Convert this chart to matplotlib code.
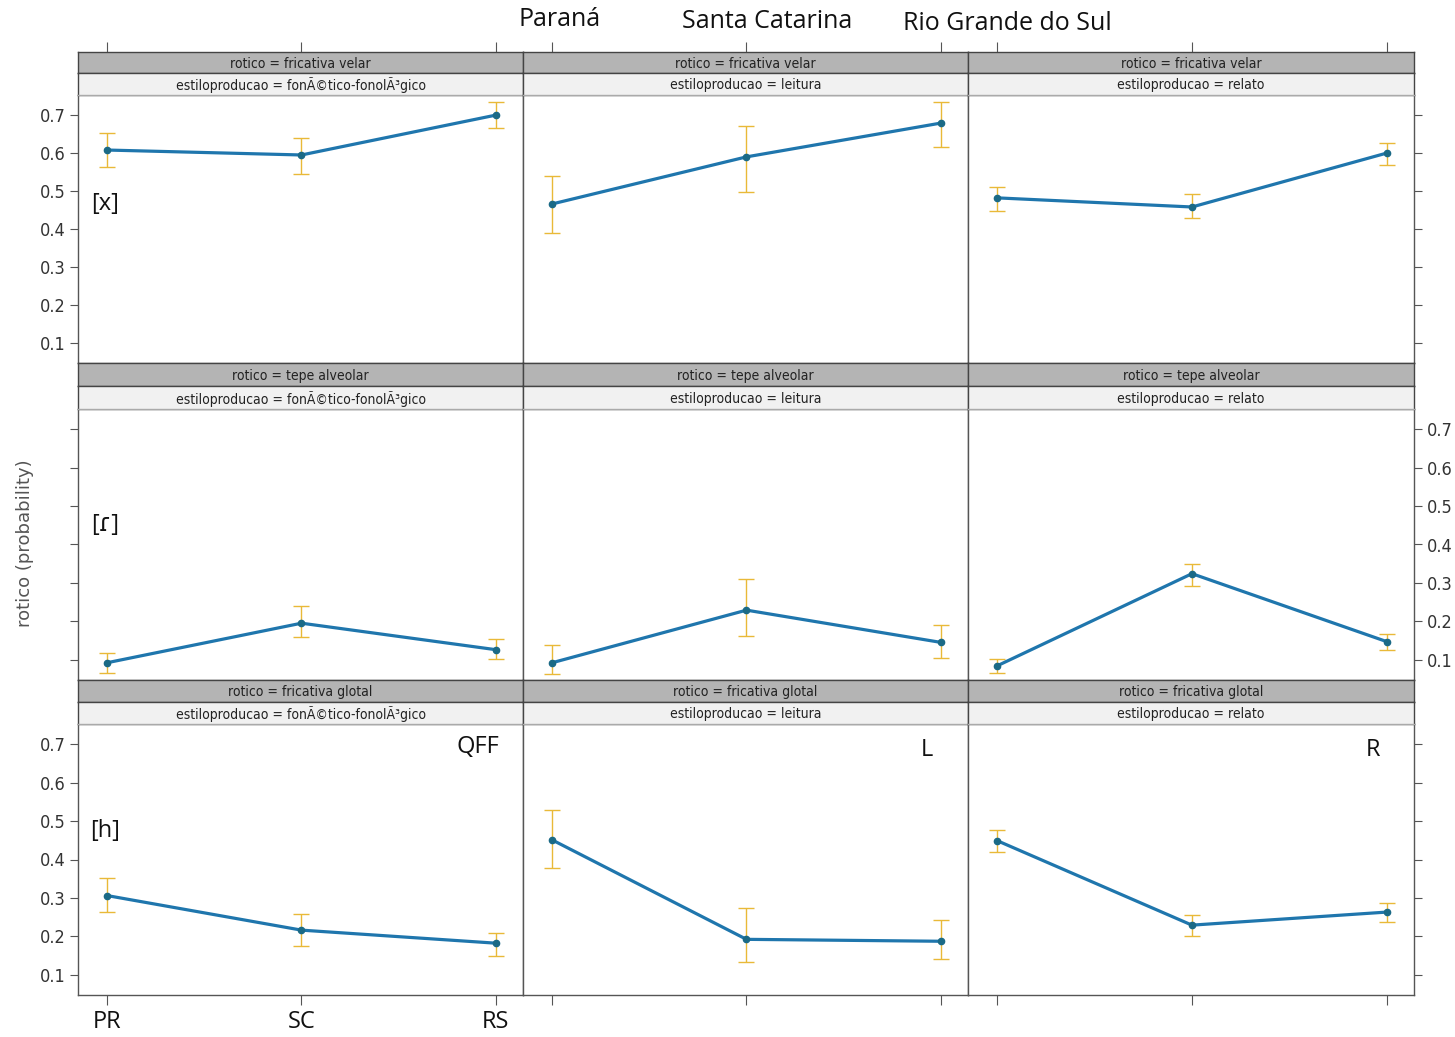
import matplotlib
matplotlib.use('Agg')
import matplotlib.pyplot as plt
from matplotlib import font_manager

W, H = 1455, 1037

# ---------------- data ----------------
states = ['PR', 'SC', 'RS']
state_names = ['Paraná', 'Santa Catarina', 'Rio Grande do Sul']
styles = ['fonÃ©tico-fonolÃ³gico', 'leitura', 'relato']
roticos = ['fricativa velar', 'tepe alveolar', 'fricativa glotal']
row_labels = ['[x]', '[ɾ]', '[h]']
col_labels = ['QFF', 'L', 'R']
yticks = [0.1, 0.2, 0.3, 0.4, 0.5, 0.6, 0.7]

# fricativa velar  (columns: fonetico-fonologico, leitura, relato; values PR, SC, RS)
velar_fit = [[0.608, 0.595, 0.700], [0.466, 0.590, 0.679], [0.482, 0.458, 0.600]]
velar_lo = [[0.563, 0.545, 0.665], [0.390, 0.497, 0.616], [0.447, 0.429, 0.568]]
velar_hi = [[0.652, 0.640, 0.735], [0.540, 0.671, 0.734], [0.510, 0.492, 0.626]]
# tepe alveolar
tepe_fit = [[0.092, 0.195, 0.126], [0.092, 0.229, 0.145], [0.084, 0.324, 0.147]]
tepe_lo = [[0.066, 0.158, 0.103], [0.063, 0.161, 0.105], [0.066, 0.292, 0.126]]
tepe_hi = [[0.118, 0.240, 0.155], [0.137, 0.311, 0.189], [0.103, 0.350, 0.168]]
# fricativa glotal
glotal_fit = [[0.306, 0.216, 0.182], [0.451, 0.192, 0.187], [0.449, 0.229, 0.263]]
glotal_lo = [[0.264, 0.174, 0.148], [0.377, 0.132, 0.142], [0.420, 0.200, 0.236]]
glotal_hi = [[0.351, 0.259, 0.208], [0.528, 0.274, 0.242], [0.478, 0.256, 0.287]]

fits = [velar_fit, tepe_fit, glotal_fit]
los = [velar_lo, tepe_lo, glotal_lo]
his = [velar_hi, tepe_hi, glotal_hi]

# ---------------- fonts ----------------
avail = {f.name for f in font_manager.fontManager.ttflist}
narrow_stretch = 'normal'
if 'Liberation Sans Narrow' in avail:
    NARROW = ['Liberation Sans Narrow', 'DejaVu Sans']
    tick_fs, strip_fs = 15, 12
elif 'DejaVu Sans Condensed' in avail:
    NARROW = ['DejaVu Sans Condensed', 'DejaVu Sans']
    tick_fs, strip_fs = 13, 10
else:
    condensed = [f for f in font_manager.fontManager.ttflist
                 if f.name == 'DejaVu Sans' and str(f.stretch) in ('condensed', '700', 'semi-condensed')]
    NARROW = ['DejaVu Sans']
    if condensed:
        narrow_stretch = 'condensed'
        tick_fs, strip_fs = 13, 10
    else:
        NARROW = ['Liberation Sans', 'DejaVu Sans']
        tick_fs, strip_fs = 13, 9.5
CAL = ['Open Sans', 'DejaVu Sans']

# ---------------- layout ----------------
col_edges = [78, 523, 968, 1414]
strip1_top = [52, 363, 680]
strip1_bot = [73, 386, 702]
strip2_bot = [95, 409, 724]
panel_bot = [363, 680, 995]

LINE_C = '#1f76ad'
PT_C = '#1b6a86'
ERR_C = '#e9b938'
FRAME_C = '#555555'


def rect(x0, y0, x1, y1):
    return [x0 / W, 1 - y1 / H, (x1 - x0) / W, (y1 - y0) / H]


fig = plt.figure(figsize=(W / 100, H / 100), dpi=100)
xpos = [1, 2, 3]
XLIM = (0.85, 3.14)
YLIM = (0.047, 0.753)
lab_y = [0.465, 0.45, 0.473]

for r in range(3):
    for c in range(3):
        x0, x1 = col_edges[c], col_edges[c + 1]
        # panel
        ax = fig.add_axes(rect(x0, strip2_bot[r], x1, panel_bot[r]))
        ax.set_xlim(*XLIM)
        ax.set_ylim(*YLIM)
        f = fits[r][c]
        lo = [f[i] - los[r][c][i] for i in range(3)]
        hi = [his[r][c][i] - f[i] for i in range(3)]
        ax.errorbar(xpos, f, yerr=[lo, hi], fmt='none', ecolor=ERR_C,
                    elinewidth=1.0, capsize=6, capthick=1.0, zorder=2)
        ax.plot(xpos, f, color=LINE_C, lw=2.3, zorder=3)
        ax.plot(xpos, f, 'o', color=PT_C, ms=4.5, zorder=4)
        for s in ax.spines.values():
            s.set_color(FRAME_C)
            s.set_linewidth(1.0)
        ax.set_yticks(yticks)
        ax.set_yticklabels([f'{v:.1f}' for v in yticks])
        ax.set_xticks(xpos)
        ax.tick_params(axis='x', which='both', bottom=(r == 2), top=False,
                       labelbottom=False, direction='out', length=7,
                       color=FRAME_C)
        left_lab = (c == 0 and r in (0, 2))
        right_lab = (c == 2 and r == 1)
        ax.tick_params(axis='y', left=(c == 0), right=(c == 2),
                       labelleft=left_lab, labelright=right_lab,
                       direction='out', length=6, color=FRAME_C,
                       labelsize=tick_fs, labelcolor='#333333', pad=3)
        for lab in ax.get_yticklabels():
            lab.set_family(NARROW)
            lab.set_stretch(narrow_stretch)

        # strips
        s1 = fig.add_axes(rect(x0, strip1_top[r], x1, strip1_bot[r]))
        s1.set_facecolor('#b4b4b4')
        s1.set_xlim(*XLIM)
        s1.set_yticks([])
        s1.set_xticks(xpos)
        s1.tick_params(axis='x', bottom=False, labelbottom=False,
                       top=(r == 0), labeltop=False, direction='out',
                       length=7, color=FRAME_C)
        for sp in s1.spines.values():
            sp.set_color('#444444')
            sp.set_linewidth(1.0)
        s1.text(0.5, 0.45, f'rotico = {roticos[r]}', ha='center', va='center',
                transform=s1.transAxes, family=NARROW, stretch=narrow_stretch,
                fontsize=strip_fs, color='#222222')

        s2 = fig.add_axes(rect(x0, strip1_bot[r], x1, strip2_bot[r]))
        s2.set_facecolor('#f1f1f1')
        s2.set_xticks([])
        s2.set_yticks([])
        for sp in s2.spines.values():
            sp.set_color('#444444')
            sp.set_linewidth(1.0)
        s2.spines['bottom'].set_color('#aaaaaa')
        s2.text(0.5, 0.45, f'estiloproducao = {styles[c]}', ha='center',
                va='center', transform=s2.transAxes, family=NARROW,
                stretch=narrow_stretch, fontsize=strip_fs, color='#222222')

        if c == 0:
            ax.text(0.99, lab_y[r], row_labels[r], ha='center', va='center',
                    family=CAL, fontsize=17, color='#111111')
        if r == 2:
            if c == 0:
                ax.text(3.02, 0.692, col_labels[c], ha='right', va='center',
                        family=CAL, fontsize=17, color='#111111')
                for i, s in enumerate(states):
                    ax.text(xpos[i], -0.1, s, transform=ax.get_xaxis_transform(),
                            ha='center', va='center', family=CAL,
                            fontsize=17, color='#111111')
            else:
                ax.text(2.93, 0.685, col_labels[c], ha='center', va='center',
                        family=CAL, fontsize=17, color='#111111')

# state names on top
name_x = [560, 767, 1007]
name_y = [20, 22, 24]
for nm, x, y in zip(state_names, name_x, name_y):
    fig.text(x / W, 1 - y / H, nm, ha='center', va='center', family=CAL,
             fontsize=18, color='#111111')

fig.text(25 / W, 1 - 543 / H, 'rotico (probability)', rotation=90,
         ha='center', va='center', family=['DejaVu Sans'], fontsize=13,
         color='#555555')

fig.savefig('out.png', dpi=100)
